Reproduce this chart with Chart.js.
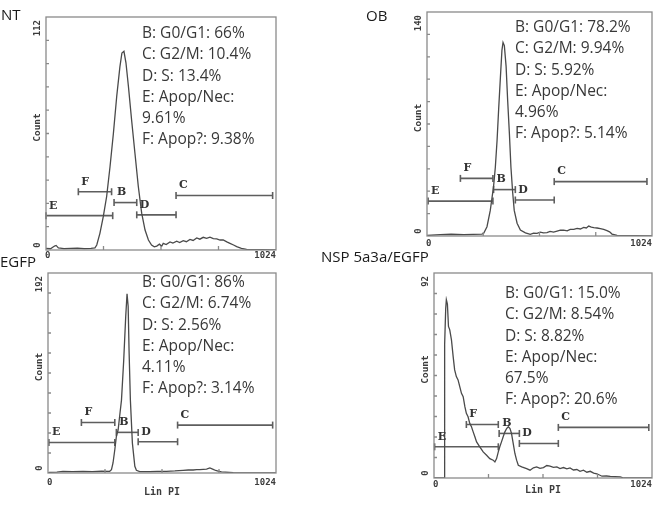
<!DOCTYPE html>
<html>
<head>
<meta charset="utf-8">
<script src="https://cdn.jsdelivr.net/npm/chart.js@4.4.1/dist/chart.umd.min.js"></script>
<style>
  body { margin: 0; background: #fff; width: 661px; height: 507px; position: relative; overflow: hidden; font-family: "Open Sans", sans-serif; }
  canvas { position: absolute; }
  .title { position: absolute; font-size: 15px; line-height: 20px; color: #1a1a1a; white-space: nowrap; }
  .stats { position: absolute; font-size: 15.5px; line-height: 21.3px; color: #383838; white-space: nowrap; }
</style>
</head>
<body>
<canvas id="ntChart" width="330" height="262" style="left:0;top:0"></canvas>
<canvas id="obChart" width="331" height="262" style="left:330px;top:0"></canvas>
<canvas id="egfpChart" width="330" height="245" style="left:0;top:262px"></canvas>
<canvas id="nspChart" width="331" height="245" style="left:330px;top:262px"></canvas>

<div class="title" style="left:1px;top:4px">NT</div>
<div class="title" style="left:366px;top:5px">OB</div>
<div class="title" style="left:0px;top:251px">EGFP</div>
<div class="title" style="left:321px;top:246px">NSP 5a3a/EGFP</div>

<div class="stats" id="ntStats" style="left:142px;top:22px"></div>
<div class="stats" id="obStats" style="left:515px;top:16px"></div>
<div class="stats" id="egfpStats" style="left:142px;top:271px"></div>
<div class="stats" id="nspStats" style="left:505px;top:282px"></div>

<script>
// ---- data (x = Lin PI channel, y = count) ----
const gateNames = ["E", "F", "B", "D", "C"];

const ntX = [
  0, 20, 38, 45, 55, 80, 110, 140, 170, 200,
  218, 226, 240, 255, 270, 285, 300, 315, 329, 338,
  347, 356, 367, 381, 396, 411, 426, 441, 456, 470,
  482, 493, 505, 515, 522, 535, 552, 565, 582, 595,
  611, 625, 641, 655, 671, 685, 700, 715, 730, 745,
  760, 775, 789, 805, 819, 835, 849, 870, 893, 1024
];
const ntCount = [
  0.8, 0.6, 1.9, 2.2, 1.0, 0.7, 0.8, 0.9, 0.7, 0.8,
  1.0, 2.4, 8, 16, 25.7, 40, 56, 74, 88, 94.7,
  95.5, 90, 78.6, 62.6, 46.5, 30.5, 17.7, 9.6, 4.8, 2.4,
  1.5, 1.9, 2.8, 1.8, 3.2, 2.6, 3.9, 3.3, 4.2, 3.6,
  4.5, 4.0, 5.1, 4.6, 5.8, 5.2, 6.1, 5.6, 6.2, 5.5,
  5.3, 4.8, 4.8, 3.9, 3.2, 2.4, 1.6, 0.8, 0.3, 0
];
const ntMax = 112;
const ntGateFrom = [0, 144, 303, 404, 579];
const ntGateTo = [297, 292, 404, 579, 1009];
const ntGateLevel = [16.5, 28, 22.8, 16.9, 26.2];
const ntStats = ["B: G0/G1: 66%", "C: G2/M: 10.4%", "D: S: 13.4%", "E: Apop/Nec:", "9.61%", "F: Apop?: 9.38%"];

const obX = [
  0, 61, 110, 167, 210, 250, 258, 273, 288, 303,
  311, 319, 326, 334, 341, 346, 352, 360, 367, 375,
  382, 390, 397, 410, 425, 448, 470, 485, 501, 515,
  530, 546, 560, 576, 592, 607, 622, 638, 652, 668,
  683, 698, 713, 725, 736, 748, 759, 774, 789, 804,
  819, 831, 842, 865, 1024
];
const obCount = [
  0.3, 0.9, 1.1, 0.8, 1.0, 1.2, 1.7, 5.8, 16, 31,
  43, 60, 79, 99, 116, 121, 119, 106, 85, 64,
  43, 27, 16, 8, 3.7, 2.0, 1.0, 1.8, 1.6, 2.4,
  1.9, 2.1, 2.9, 2.4, 3.0, 3.6, 3.7, 3.2, 4.1, 4.2,
  4.8, 4.4, 5.4, 5.0, 6.2, 5.6, 5.2, 5.0, 4.6, 4.1,
  3.4, 2.6, 1.2, 0.4, 0
];
const obMax = 140;
const obGateFrom = [5, 152, 303, 402, 579];
const obGateTo = [300, 300, 402, 579, 1001];
const obGateLevel = [21.8, 36, 29, 22.5, 34];
const obStats = ["B: G0/G1: 78.2%", "C: G2/M: 9.94%", "D: S: 5.92%", "E: Apop/Nec:", "4.96%", "F: Apop?: 5.14%"];

const egfpX = [
  0, 7, 40, 67, 110, 157, 200, 240, 277, 285,
  292, 300, 307, 315, 322, 330, 340, 349, 355, 360,
  364, 370, 379, 390, 397, 412, 435, 457, 490, 532,
  570, 607, 630, 652, 668, 682, 697, 712, 727, 742,
  753, 764, 779, 832, 1024
];
const egfpCount = [
  0, 0.6, 0.8, 1.6, 1.3, 1.6, 1.4, 1.7, 1.6, 3.2,
  9.6, 22.3, 35, 41.5, 55, 70, 108, 150, 172, 160,
  118, 70, 28.7, 6.4, 2.6, 1.3, 1.4, 1.3, 1.5, 1.6,
  2.0, 2.6, 2.9, 2.9, 3.2, 3.2, 3.5, 3.8, 4.8, 3.5,
  2.4, 1.9, 1.0, 0.3, 0
];
const egfpMax = 192;
const egfpGateFrom = [4, 150, 307, 405, 582];
const egfpGateTo = [300, 300, 405, 582, 1009];
const egfpGateLevel = [29.3, 48.5, 39, 30, 46];
const egfpStats = ["B: G0/G1: 86%", "C: G2/M: 6.74%", "D: S: 2.56%", "E: Apop/Nec:", "4.11%", "F: Apop?: 3.14%"];

const nspX = [
  0, 47, 50, 55, 58, 63, 68, 74, 82, 90,
  97, 105, 113, 121, 129, 137, 145, 152, 160, 168,
  176, 184, 192, 200, 215, 231, 247, 262, 278, 286,
  294, 302, 309, 317, 325, 333, 341, 349, 357, 364,
  372, 380, 388, 396, 412, 435, 451, 467, 482, 498,
  514, 530, 545, 561, 577, 592, 608, 624, 639, 655,
  671, 686, 702, 718, 734, 750, 765, 789, 810, 828,
  850, 875, 891, 1024
];
const nspCount = [
  0, 0, 60, 76, 80, 78, 68, 66.5, 62, 54.5,
  48.5, 45.5, 44, 41, 38, 36.5, 32, 29, 27.5, 24.5,
  23, 20.7, 18.5, 16.2, 14, 11.7, 10.2, 8.7, 8, 7.2,
  8.7, 11.7, 14, 16.2, 18.5, 20.7, 22.2, 23, 22.2, 20,
  15.5, 11, 8, 5.7, 5, 4.2, 3.5, 4.6, 5, 4.3,
  4.7, 5.6, 5.3, 4.8, 5, 4.2, 4.7, 4.1, 4.5, 3.6,
  3.8, 3.0, 3.5, 2.6, 3.0, 2.2, 1.9, 0.8, 0.9, 0.7,
  0.6, 0.5, 0, 0
];
const nspMax = 92;
const nspGateFrom = [3, 152, 306, 401, 584];
const nspGateTo = [302, 302, 401, 584, 1009];
const nspGateLevel = [14, 24, 20, 15.5, 22.7];
const nspStats = ["B: G0/G1: 15.0%", "C: G2/M: 8.54%", "D: S: 8.82%", "E: Apop/Nec:", "67.5%", "F: Apop?: 20.6%"];

const xTicks = [0, 256, 512, 768, 1024];
const yTickSteps = 10;

// box, inner ticks, axis labels
const framePlugin = {
  id: "frame",
  afterDraw(chart, args, opts) {
    const { ctx, chartArea: a } = chart;
    const x = chart.scales.x, y = chart.scales.y;
    ctx.save();
    ctx.strokeStyle = "#8a8a8a";
    ctx.lineWidth = 1.3;
    ctx.strokeRect(a.left, a.top, a.right - a.left, a.bottom - a.top);
    ctx.beginPath();
    xTicks.slice(1, -1).forEach(v => {
      const px = x.getPixelForValue(v);
      ctx.moveTo(px, a.bottom);
      ctx.lineTo(px, a.bottom - 4);
    });
    for (let i = 1; i < yTickSteps; i++) {
      const py = y.getPixelForValue(y.max * i / yTickSteps);
      ctx.moveTo(a.left, py);
      ctx.lineTo(a.left + 3, py);
    }
    ctx.stroke();

    ctx.fillStyle = "#3c3c3c";
    ctx.font = 'bold 9px "DejaVu Sans Mono"';
    ctx.textBaseline = "middle";
    ctx.textAlign = "left";
    ctx.fillText("0", a.left - 1, a.bottom + opts.tickGap);
    ctx.textAlign = "right";
    ctx.fillText("1024", a.right, a.bottom + opts.tickGap);
    if (opts.xTitle) {
      ctx.textAlign = "center";
      ctx.font = 'bold 10px "DejaVu Sans Mono"';
      ctx.fillText(opts.xTitle, (a.left + a.right) / 2, a.bottom + opts.titleGap);
    }

    ctx.font = 'bold 9px "DejaVu Sans Mono"';
    ctx.translate(a.left - 8, 0);
    ctx.rotate(-Math.PI / 2);
    ctx.textAlign = "right";
    ctx.fillText(String(y.max), -a.top - 3, 0);
    ctx.textAlign = "center";
    ctx.fillText("0", -a.bottom + 5, 0);
    ctx.font = 'bold 9.5px "DejaVu Sans Mono"';
    ctx.fillText("Count", -(a.top + a.bottom) / 2 + 6, 0);
    ctx.restore();
  }
};

// gate letters above the left end of each gate bar
const gateLabelPlugin = {
  id: "gateLabels",
  afterDatasetsDraw(chart) {
    const ctx = chart.ctx;
    ctx.save();
    ctx.fillStyle = "#333";
    ctx.font = 'bold 11px "DejaVu Serif"';
    ctx.textAlign = "left";
    ctx.textBaseline = "middle";
    chart.data.datasets.forEach((ds, i) => {
      if (!ds.gate) return;
      const p = chart.getDatasetMeta(i).data[0];
      ctx.fillText(ds.label, p.x + 3, p.y - 10);
    });
    ctx.restore();
  }
};

function makePanel(id, xs, counts, yMax, gFrom, gTo, gLevel, padding, frame) {
  const datasets = [{
    label: "Count",
    data: xs.map((v, i) => ({ x: v, y: counts[i] })),
    borderColor: "#4a4a4a",
    borderWidth: 1.3,
    pointRadius: 0,
    tension: 0
  }];
  gateNames.forEach((name, i) => {
    datasets.push({
      label: name,
      gate: true,
      data: [{ x: gFrom[i], y: gLevel[i] }, { x: gTo[i], y: gLevel[i] }],
      borderColor: "#5e5e5e",
      borderWidth: 1.6,
      pointStyle: "line",
      pointRotation: 90,
      pointRadius: 3.5,
      pointBorderColor: "#5e5e5e",
      pointBorderWidth: 1.6,
      clip: false
    });
  });
  return new Chart(document.getElementById(id), {
    type: "line",
    data: { datasets: datasets },
    options: {
      responsive: false,
      animation: false,
      devicePixelRatio: 1,
      layout: { padding: padding },
      plugins: { legend: { display: false }, tooltip: { enabled: false }, frame: frame },
      scales: {
        x: { type: "linear", min: 0, max: 1024, display: false },
        y: { type: "linear", min: 0, max: yMax, display: false }
      }
    },
    plugins: [framePlugin, gateLabelPlugin]
  });
}

function fillStats(id, lines) {
  document.getElementById(id).innerHTML = lines.join("<br>");
}

makePanel("ntChart", ntX, ntCount, ntMax, ntGateFrom, ntGateTo, ntGateLevel,
  { left: 46, top: 17, right: 54, bottom: 12 }, { tickGap: 6 });
makePanel("obChart", obX, obCount, obMax, obGateFrom, obGateTo, obGateLevel,
  { left: 97, top: 12, right: 9, bottom: 26 }, { tickGap: 8 });
makePanel("egfpChart", egfpX, egfpCount, egfpMax, egfpGateFrom, egfpGateTo, egfpGateLevel,
  { left: 48, top: 11, right: 54, bottom: 34 }, { tickGap: 10, xTitle: "Lin PI", titleGap: 19 });
makePanel("nspChart", nspX, nspCount, nspMax, nspGateFrom, nspGateTo, nspGateLevel,
  { left: 104, top: 11, right: 9, bottom: 29 }, { tickGap: 7, xTitle: "Lin PI", titleGap: 12 });

fillStats("ntStats", ntStats);
fillStats("obStats", obStats);
fillStats("egfpStats", egfpStats);
fillStats("nspStats", nspStats);
</script>
</body>
</html>
